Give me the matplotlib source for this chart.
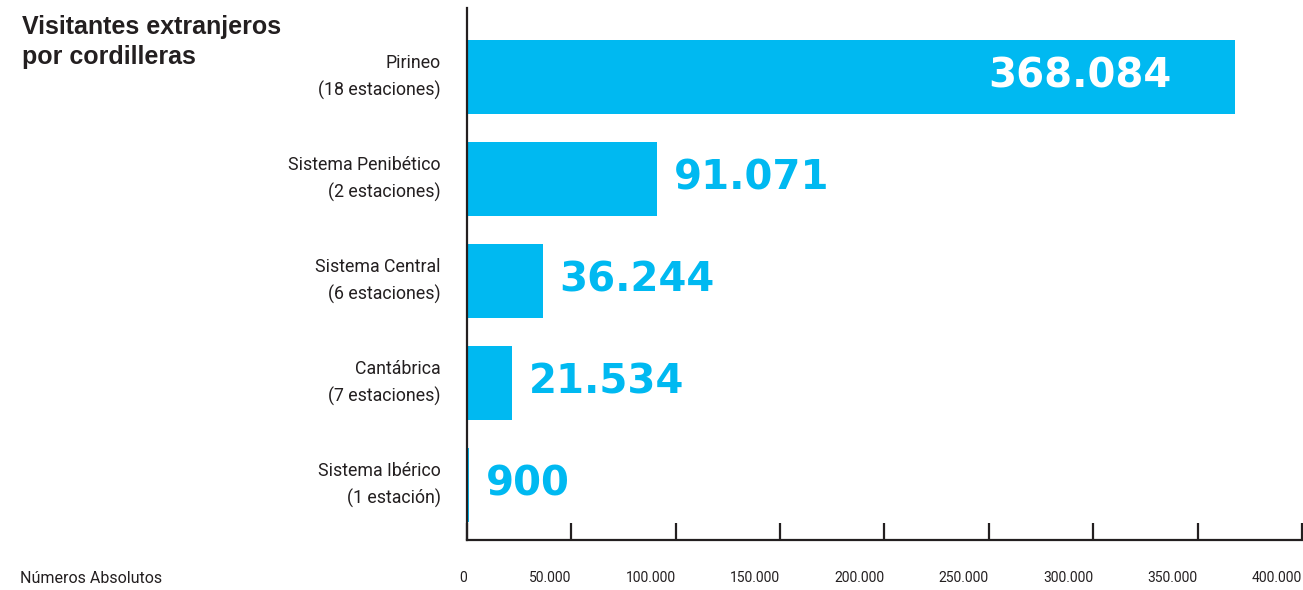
import matplotlib.pyplot as plt
from matplotlib.ticker import FixedLocator, FuncFormatter

cordilleras = ["Pirineo\n(18 estaciones)", "Sistema Penibético\n(2 estaciones)",
               "Sistema Central\n(6 estaciones)", "Cantábrica\n(7 estaciones)",
               "Sistema Ibérico\n(1 estación)"]
visitantes = [368084, 91071, 36244, 21534, 900]
xticks = [0, 50000, 100000, 150000, 200000, 250000, 300000, 350000, 400000]

barColor = "#00b9f1"
darkColor = "#231f20"
narrow = ["Roboto", "DejaVu Sans"]

def puntos(n):
    return f"{n:,.0f}".replace(",", ".")

fig = plt.figure(figsize=(13.03, 5.90), dpi=100)
ax = fig.add_axes([0.3584, 0.0847, 0.6408, 0.9017])

positions = list(range(len(visitantes)))
ax.barh(positions, visitantes, height=0.725, color=barColor)
ax.set_xlim(0, 400000)
ax.set_ylim(4.54, -0.676)

for pos, val in zip(positions, visitantes):
    if val > 200000:
        ax.annotate(puntos(val), (val, pos), xytext=(-46, 0), textcoords="offset points",
                    ha="right", va="center", color="white", fontsize=29,
                    fontweight="bold", family="DejaVu Sans")
    else:
        ax.annotate(puntos(val), (val, pos), xytext=(12, 0), textcoords="offset points",
                    ha="left", va="center", color=barColor, fontsize=29,
                    fontweight="bold", family="DejaVu Sans")

ax.set_yticks(positions)
ax.set_yticklabels(cordilleras, family=narrow, fontsize=12.8, color=darkColor,
                   ha="right", va="center", linespacing=1.6)
ax.tick_params(axis="y", length=0, pad=19)

ax.xaxis.set_major_locator(FixedLocator(xticks))
ax.xaxis.set_major_formatter(FuncFormatter(lambda v, p: puntos(v)))
ax.tick_params(axis="x", direction="in", length=12, width=1.6, color=darkColor,
               pad=22, labelsize=10, labelcolor=darkColor)
for label in ax.get_xticklabels():
    label.set_family(narrow)
    label.set_ha("right")

for side in ["top", "right"]:
    ax.spines[side].set_visible(False)
for side in ["left", "bottom"]:
    ax.spines[side].set_color(darkColor)
    ax.spines[side].set_linewidth(1.6)

fig.text(0.017, 0.975, "Visitantes extranjeros\npor cordilleras", ha="left", va="top",
         fontsize=18, fontweight="bold", color=darkColor,
         family=["Liberation Sans", "DejaVu Sans"], linespacing=1.32)
fig.text(0.015, 0.0203, "Números Absolutos", ha="left", va="center",
         fontsize=11.5, color=darkColor, family=narrow)

fig.savefig("out.png", dpi=100)
